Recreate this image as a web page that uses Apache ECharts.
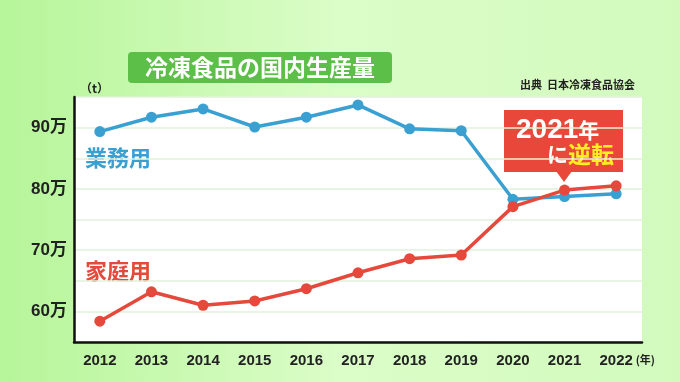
<!DOCTYPE html>
<html><head><meta charset="utf-8">
<script src="https://cdn.jsdelivr.net/npm/echarts@6/dist/echarts.min.js"></script>
<style>html,body{margin:0;padding:0;}#c{width:680px;height:382px;}</style>
</head><body><div id="c"></div>
<script>
const years = ['2012','2013','2014','2015','2016','2017','2018','2019','2020','2021','2022'];
const gyomu = [89.35, 91.7, 93.05, 90.1, 91.7, 93.7, 89.8, 89.5, 78.3, 78.75, 79.2];
const katei = [58.4, 63.2, 61.0, 61.7, 63.7, 66.3, 68.6, 69.2, 77.1, 79.8, 80.5];
const BLUE = '#3aa0d2', RED = '#e4493b';
const JP = '"Noto Sans CJK JP", sans-serif';
const chart = echarts.init(document.getElementById('c'));
chart.setOption({
  backgroundColor: {type:'linear', x:0, y:0, x2:1, y2:0, colorStops:[
    {offset:0, color:'#b6f599'}, {offset:0.5, color:'#dbfdc8'}, {offset:1, color:'#d2fabd'}]},
  animation: false,
  grid: {left:74, right:38, top:97, bottom:40, show:true, backgroundColor:'#ffffff', borderWidth:0},
  xAxis: {type:'category', data:years, boundaryGap:true,
    axisLine:{show:true, lineStyle:{color:'#111', width:2.5}},
    axisTick:{show:false},
    axisLabel:{color:'#222', fontSize:15, fontWeight:'bold', fontFamily:'"Liberation Sans", sans-serif', margin:11}},
  yAxis: {type:'value', min:55, max:95, interval:5,
    axisLine:{show:true, lineStyle:{color:'#111', width:2.5}},
    axisTick:{show:false},
    splitLine:{lineStyle:{color:'#e2f2da', width:1.5}},
    axisLabel:{color:'#222', fontSize:17, fontWeight:'bold', fontFamily:'"Liberation Sans", ' + JP, margin:7,
      formatter: v => (v % 10 === 0 ? v + '万' : '')}},
  series: [
    {type:'line', data:gyomu, color:BLUE, lineStyle:{width:3.5}, symbol:'circle', symbolSize:11, itemStyle:{color:BLUE}},
    {type:'line', data:katei, color:RED, lineStyle:{width:3.5}, symbol:'circle', symbolSize:11, itemStyle:{color:RED}, z:3}
  ],
  graphic: [
    {type:'rect', shape:{x:128, y:52, width:264, height:31, r:4}, style:{fill:'#5cbf48'}},
    {type:'text', x:260, y:67.5, style:{text:'冷凍食品の国内生産量', fill:'#fff', font:'bold 23px ' + JP, align:'center', verticalAlign:'middle'}},
    {type:'text', x:80, y:88, style:{text:'（t）', fill:'#222', font:'bold 12px ' + JP, align:'left', verticalAlign:'middle'}},
    {type:'text', x:635, y:85, style:{text:'出典  日本冷凍食品協会', fill:'#222', font:'bold 11px ' + JP, align:'right', verticalAlign:'middle'}},
    {type:'text', x:655, y:360, style:{text:'(年)', fill:'#222', font:'bold 11px ' + JP, align:'right', verticalAlign:'middle'}},
    {type:'text', x:85, y:158, style:{text:'業務用', fill:BLUE, font:'bold 22px ' + JP, align:'left', verticalAlign:'middle'}},
    {type:'text', x:85, y:271, style:{text:'家庭用', fill:RED, font:'bold 22px ' + JP, align:'left', verticalAlign:'middle'}},
    {type:'rect', shape:{x:504, y:110, width:119, height:62}, style:{fill:'#e8473a'}},
    {type:'polygon', shape:{points:[[556,171],[572,171],[564,182]]}, style:{fill:'#e8473a'}},
    {type:'text', x:516, y:130, style:{
      text:'{n|2021}{y|年}', verticalAlign:'middle', align:'left',
      rich:{n:{fill:'#fff', font:'bold 28px "Liberation Sans", sans-serif'}, y:{fill:'#fff', font:'bold 21px ' + JP}}}},
    {type:'text', x:614, y:154, style:{
      text:'{a|に}{b|逆転}', verticalAlign:'middle', align:'right',
      rich:{a:{fill:'#fff', font:'bold 21px ' + JP}, b:{fill:'#ffee22', font:'bold 23px ' + JP}}}}
  ]
});
</script></body></html>
